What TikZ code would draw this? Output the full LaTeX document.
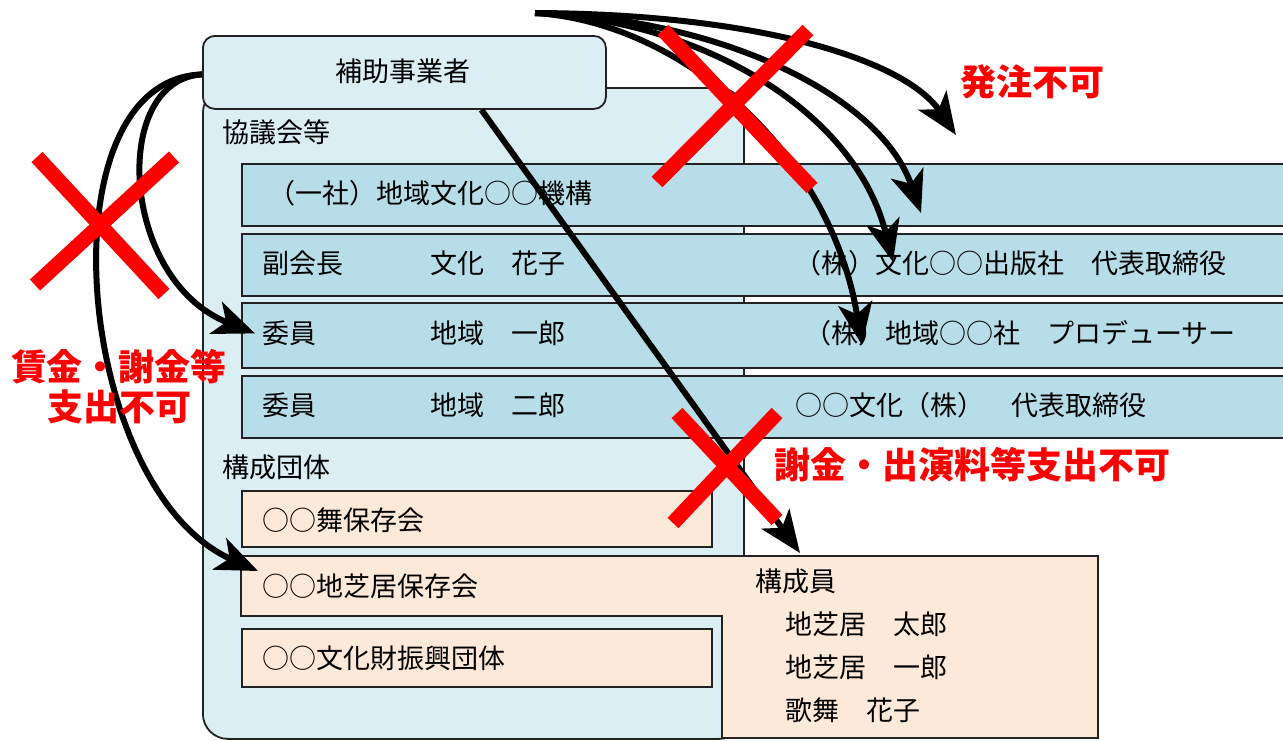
\documentclass[tikz,border=0pt]{standalone}
\usepackage{fontspec}
\setmainfont{Noto Sans CJK JP}
\usetikzlibrary{arrows.meta}
\definecolor{lblue}{HTML}{DAEEF3}
\definecolor{rowblue}{HTML}{B7DDE8}
\definecolor{lorange}{HTML}{FDE9D9}
\definecolor{edge}{HTML}{222222}
\tikzset{
  lbl/.style={font=\fontsize{27}{32}\selectfont, anchor=west, inner sep=0pt, text height=0.88em, text depth=0.12em, yshift=-6pt},
  redlbl/.style={font=\fontsize{36}{40}\selectfont\bfseries, text=red, inner sep=0pt, align=center},
  arr/.style={line width=6pt, -{Stealth[length=42pt,width=34pt,inset=11pt]}},
  cross/.style={draw=red, line width=15pt},
  rowbox/.style={draw=edge, line width=1.8pt, fill=rowblue, anchor=north west, inner sep=0pt},
  orbox/.style={draw=edge, line width=1.8pt, fill=lorange, anchor=north west, inner sep=0pt},
}
\begin{document}
\begin{tikzpicture}[x=1pt,y=-1pt]
\useasboundingbox (0,0) rectangle (1283,740);
\clip (0,0) rectangle (1283,740);
% container
\node[draw=edge, line width=1.8pt, fill=lblue, rounded corners=25pt, anchor=north west, inner sep=0pt,
      minimum width=541pt, minimum height=651pt] (cont) at (202,87) {};
% header
\node[draw=edge, line width=1.8pt, fill=lblue, rounded corners=12pt, anchor=north west, inner sep=0pt,
      minimum width=403pt, minimum height=73pt] (hdr) at (202,35) {};
\node[lbl, anchor=center] (hdrt) at (403,72) {補助事業者};
% rows
\node[rowbox, minimum width=1060pt, minimum height=62pt] (r1) at (241,163) {};
\node[rowbox, minimum width=1060pt, minimum height=62pt] (r2) at (241,233) {};
\node[rowbox, minimum width=1060pt, minimum height=65pt] (r3) at (241,302) {};
\node[rowbox, minimum width=1060pt, minimum height=62pt] (r4) at (241,375) {};
% orange boxes
\node[orbox, minimum width=470pt, minimum height=56pt] (o1) at (241,490) {};
\draw[draw=edge, line width=1.8pt, fill=lorange] (241,556) -- (1098,556) -- (1098,738) -- (722,738) -- (722,616) -- (241,616) -- cycle;
\node[orbox, minimum width=470pt, minimum height=58pt] (o3) at (241,628) {};
% texts
\node[lbl] (t0) at (222,133) {協議会等};
\node[lbl] (t1) at (268,194) {（一社）地域文化○○機構};
\node[lbl] (t2a) at (262,264) {副会長};
\node[lbl] (t2b) at (430,264) {文化　花子};
\node[lbl] (t2c) at (794,264) {（株）文化○○出版社　代表取締役};
\node[lbl] (t3a) at (262,334) {委員};
\node[lbl] (t3b) at (430,334) {地域　一郎};
\node[lbl] (t3c) at (804,334) {（株）地域○○社　プロデューサー};
\node[lbl] (t4a) at (262,406) {委員};
\node[lbl] (t4b) at (430,406) {地域　二郎};
\node[lbl] (t4c) at (795,406) {○○文化（株）　代表取締役};
\node[lbl] (t5) at (222,468) {構成団体};
\node[lbl] (t6) at (262,521) {○○舞保存会};
\node[lbl] (t7) at (262,587) {○○地芝居保存会};
\node[lbl] (t8) at (262,659) {○○文化財振興団体};
\node[lbl] (m0) at (755,582) {構成員};
\node[lbl] (m1) at (785,625) {地芝居　太郎};
\node[lbl] (m2) at (785,668) {地芝居　一郎};
\node[lbl] (m3) at (785,711) {歌舞　花子};
% arrow ends
\coordinate (src) at (535,13);
\coordinate (e1) at (956,135);
\coordinate (e2) at (921,213);
\coordinate (e3) at (893,262);
\coordinate (e4) at (862,345);
\coordinate (em) at (800,553);
\coordinate (ej) at (258,571);
% arrows
\draw[arr] (src) .. controls (760,14) and (905,60) .. (e1);
\draw[arr] (src) .. controls (720,18) and (880,95) .. (e2);
\draw[arr] (src) .. controls (700,20) and (855,110) .. (e3);
\draw[arr] (src) .. controls (680,22) and (830,150) .. (e4);
\draw[arr] ([yshift=-2pt]hdr.west) .. controls (110,80) and (120,280) .. ([xshift=14pt,yshift=2pt]r3.west);
\draw[arr] ([yshift=-2pt]hdr.west) .. controls (40,80) and (75,490) .. (ej);
\draw[arr] ([xshift=77pt]hdr.south) -- (em);
% red crosses
\draw[cross] (663,30) -- (812,188);
\draw[cross] (808,30) -- (657,182);
\draw[cross] (37,157) -- (164,294);
\draw[cross] (174,157) -- (35,285);
\draw[cross] (677,413) -- (777,520);
\draw[cross] (777,413) -- (673,523);
% red labels
\node[redlbl] (n1) at (1032,82) {発注不可};
\node[redlbl] (n2) at (119,387) {賃金・謝金等\\支出不可};
\node[redlbl] (n3) at (972,465) {謝金・出演料等支出不可};
\end{tikzpicture}
\end{document}
